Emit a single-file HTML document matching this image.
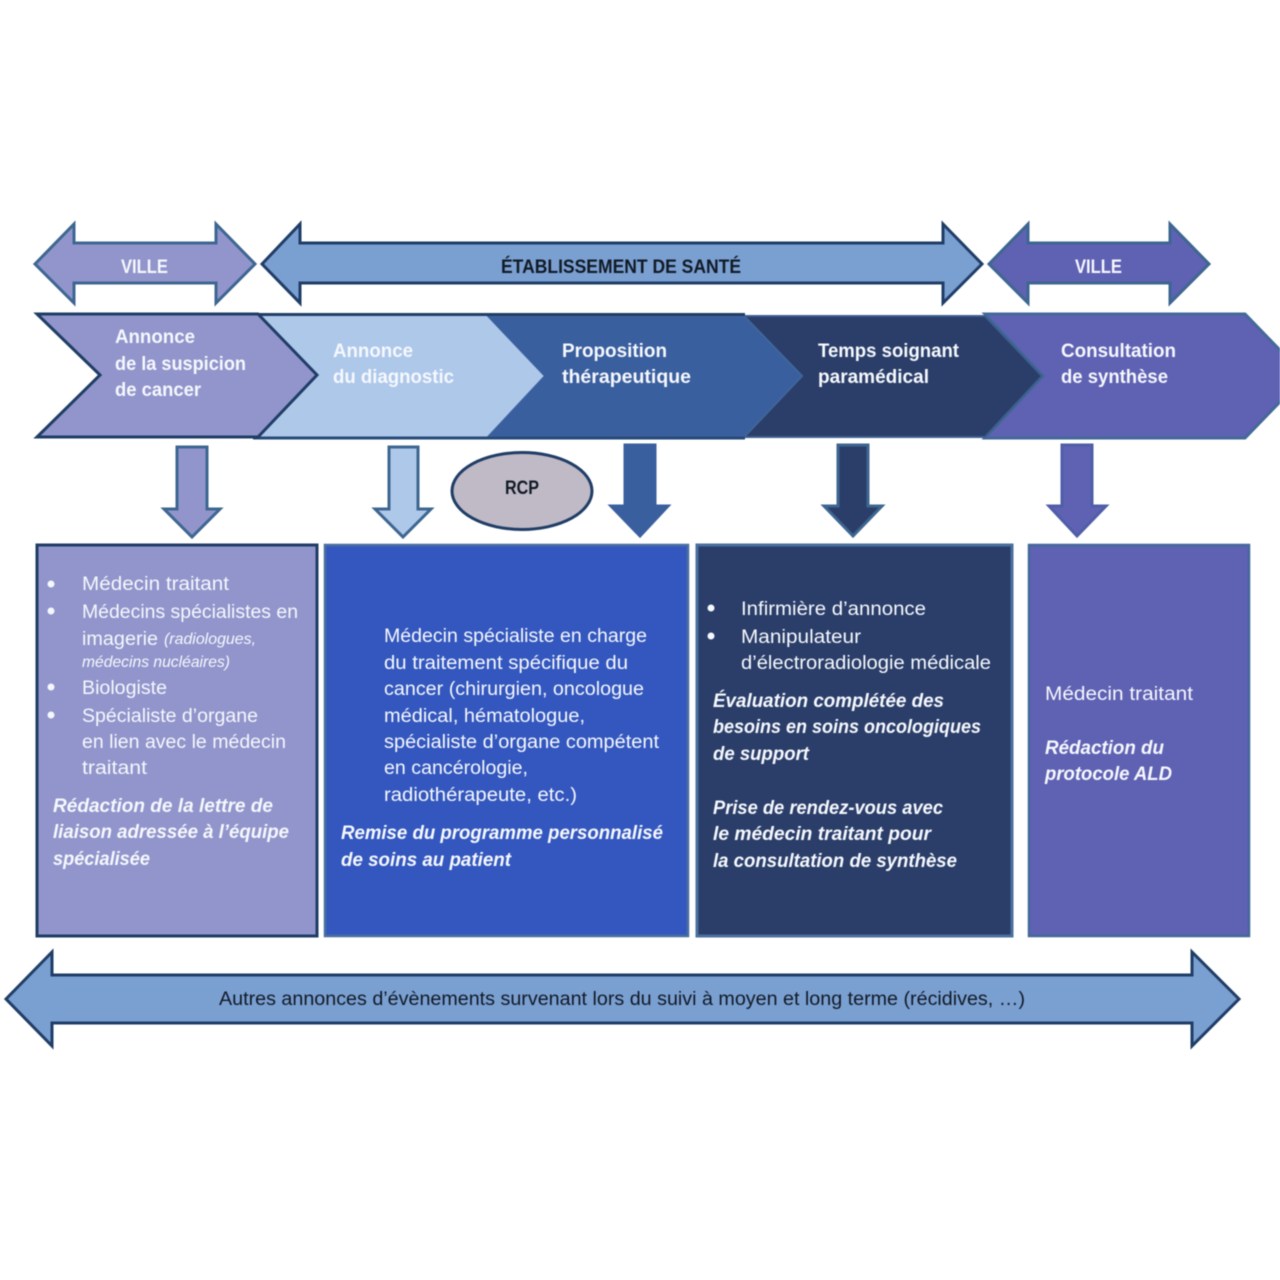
<!DOCTYPE html>
<html lang="fr">
<head>
<meta charset="utf-8">
<title>Parcours d'annonce</title>
<style>
html,body{margin:0;padding:0;background:#fff;width:1280px;height:1280px;overflow:hidden}
svg{display:block;filter:blur(0.5px)}
text{font-family:"Liberation Sans",Arial,sans-serif;font-size:19px;fill:#f6f8fd}
.b{font-weight:bold}
.d{fill:#111a26}
.bi{font-weight:bold;font-style:italic}
.i{font-style:italic;font-size:16px}
</style>
</head>
<body>
<svg width="1280" height="1280" viewBox="0 0 1280 1280" xmlns="http://www.w3.org/2000/svg">
<rect width="1280" height="1280" fill="#fff"/>

<!-- top arrows -->
<polygon points="35,264 74,224 74,243 216,243 216,224 255,264 216,303 216,283 74,283 74,303" fill="#9195cb" stroke="#3d6690" stroke-width="3"/>
<polygon points="262,264 300,224 300,243 943,243 943,224 982,264 943,303 943,283 300,283 300,303" fill="#7a9fd1" stroke="#1f3d66" stroke-width="3"/>
<polygon points="989,264 1028,224 1028,243 1170,243 1170,224 1209,264 1170,303 1170,283 1028,283 1028,303" fill="#5f62b3" stroke="#3d6690" stroke-width="3"/>

<!-- chevrons, right to left -->
<polygon points="985,314 1245,314 1305,376 1245,438 985,438 1043,376" fill="#5f62b3" stroke="#44689a" stroke-width="3"/>
<polygon points="744,316 985,316 1042,376 985,437 744,437 802,376" fill="#2a3e69" stroke="#3d5f8f" stroke-width="2"/>
<polygon points="486,316 744,316 802,376 744,437 486,437 542,376" fill="#3a5f9e" stroke="#3f659b" stroke-width="2"/>
<polygon points="258,316 486,316 543,376 486,437 258,437 318,376" fill="#aec8ea" stroke="#aec8ea" stroke-width="1"/>
<line x1="258" y1="314.500" x2="745" y2="314.500" stroke="#1f3d66" stroke-width="3"/>
<line x1="253" y1="438" x2="745" y2="438" stroke="#264a78" stroke-width="3"/>
<polygon points="37,314 258,314 317,375 258,437 37,437 100,375" fill="#9195cb" stroke="#1f3d66" stroke-width="3"/>

<!-- down arrows -->
<polygon points="177,447 207,447 207,509 220,509 192,537 164,509 177,509" fill="#9195cb" stroke="#3d6690" stroke-width="3"/>
<polygon points="389,447 418,447 418,509 431,509 403,537 375,509 389,509" fill="#aec8ea" stroke="#3d6690" stroke-width="3"/>
<polygon points="625,445 655,445 655,506 668,506 640,536 611,506 625,506" fill="#3a5f9e" stroke="#3a5f9e" stroke-width="3"/>
<polygon points="838,445 868,445 868,506 882,506 853,536 824,506 838,506" fill="#2a3e69" stroke="#3d6690" stroke-width="3"/>
<polygon points="1062,445 1092,445 1092,506 1106,506 1077,536 1049,506 1062,506" fill="#5f62b3" stroke="#4f5ea8" stroke-width="3"/>

<!-- RCP -->
<ellipse cx="522" cy="491" rx="70" ry="38.500" fill="#c0b9c6" stroke="#1f3d66" stroke-width="3"/>

<!-- boxes -->
<rect x="37" y="545" width="280" height="391" fill="#9195cb" stroke="#1f3d66" stroke-width="3"/>
<rect x="325" y="545" width="363" height="391" fill="#3357be" stroke="#4a6fa0" stroke-width="2.500"/>
<rect x="697" y="545" width="315" height="391" fill="#2a3e69" stroke="#4a6f9f" stroke-width="3"/>
<rect x="1029" y="545" width="220" height="391" fill="#5f62b3" stroke="#44689a" stroke-width="2.500"/>

<!-- bottom arrow -->
<polygon points="6,999 52,952 52,975 1192,975 1192,952 1239,999 1192,1046 1192,1023 52,1023 52,1046" fill="#7a9fd1" stroke="#1f3d66" stroke-width="3"/>

<!-- arrow labels -->
<text class="b" x="121" y="273" textLength="47" lengthAdjust="spacingAndGlyphs">VILLE</text>
<text class="b d" x="501" y="273" textLength="240" lengthAdjust="spacingAndGlyphs">ÉTABLISSEMENT DE SANTÉ</text>
<text class="b" x="1075" y="273" textLength="47" lengthAdjust="spacingAndGlyphs">VILLE</text>

<!-- chevron labels -->
<text class="b" x="115" y="343" textLength="80" lengthAdjust="spacingAndGlyphs">Annonce</text>
<text class="b" x="115" y="370" textLength="131" lengthAdjust="spacingAndGlyphs">de la suspicion</text>
<text class="b" x="115" y="396" textLength="86" lengthAdjust="spacingAndGlyphs">de cancer</text>
<text class="b" x="333" y="357" textLength="80" lengthAdjust="spacingAndGlyphs">Annonce</text>
<text class="b" x="333" y="383" textLength="121" lengthAdjust="spacingAndGlyphs">du diagnostic</text>
<text class="b" x="562" y="357" textLength="105" lengthAdjust="spacingAndGlyphs">Proposition</text>
<text class="b" x="562" y="383" textLength="129" lengthAdjust="spacingAndGlyphs">thérapeutique</text>
<text class="b" x="818" y="357" textLength="141" lengthAdjust="spacingAndGlyphs">Temps soignant</text>
<text class="b" x="818" y="383" textLength="111" lengthAdjust="spacingAndGlyphs">paramédical</text>
<text class="b" x="1061" y="357" textLength="115" lengthAdjust="spacingAndGlyphs">Consultation</text>
<text class="b" x="1061" y="383" textLength="107" lengthAdjust="spacingAndGlyphs">de synthèse</text>
<text class="b d" x="505" y="494" textLength="34" lengthAdjust="spacingAndGlyphs">RCP</text>

<!-- bullets -->
<g fill="#f6f8fd">
<circle cx="51" cy="584" r="3.500"/><circle cx="51" cy="611" r="3.500"/><circle cx="51" cy="687" r="3.500"/><circle cx="51" cy="715" r="3.500"/>
<circle cx="711" cy="608" r="3.500"/><circle cx="711" cy="636" r="3.500"/>
</g>

<!-- box 1 -->
<text x="82" y="590" textLength="147" lengthAdjust="spacingAndGlyphs">Médecin traitant</text>
<text x="82" y="618" textLength="216" lengthAdjust="spacingAndGlyphs">Médecins spécialistes en</text>
<text x="82" y="645" textLength="76" lengthAdjust="spacingAndGlyphs">imagerie</text>
<text class="i" x="164" y="644" textLength="92" lengthAdjust="spacingAndGlyphs">(radiologues,</text>
<text class="i" x="82" y="667" textLength="148" lengthAdjust="spacingAndGlyphs">médecins nucléaires)</text>
<text x="82" y="694" textLength="85" lengthAdjust="spacingAndGlyphs">Biologiste</text>
<text x="82" y="722" textLength="176" lengthAdjust="spacingAndGlyphs">Spécialiste d’organe</text>
<text x="82" y="748" textLength="204" lengthAdjust="spacingAndGlyphs">en lien avec le médecin</text>
<text x="82" y="774" textLength="65" lengthAdjust="spacingAndGlyphs">traitant</text>
<text class="bi" x="53" y="812" textLength="220" lengthAdjust="spacingAndGlyphs">Rédaction de la lettre de</text>
<text class="bi" x="53" y="838" textLength="236" lengthAdjust="spacingAndGlyphs">liaison adressée à l’équipe</text>
<text class="bi" x="53" y="865" textLength="97" lengthAdjust="spacingAndGlyphs">spécialisée</text>

<!-- box 2 -->
<text x="384" y="642" textLength="263" lengthAdjust="spacingAndGlyphs">Médecin spécialiste en charge</text>
<text x="384" y="669" textLength="244" lengthAdjust="spacingAndGlyphs">du traitement spécifique du</text>
<text x="384" y="695" textLength="260" lengthAdjust="spacingAndGlyphs">cancer (chirurgien, oncologue</text>
<text x="384" y="722" textLength="201" lengthAdjust="spacingAndGlyphs">médical, hématologue,</text>
<text x="384" y="748" textLength="275" lengthAdjust="spacingAndGlyphs">spécialiste d’organe compétent</text>
<text x="384" y="774" textLength="144" lengthAdjust="spacingAndGlyphs">en cancérologie,</text>
<text x="384" y="801" textLength="193" lengthAdjust="spacingAndGlyphs">radiothérapeute, etc.)</text>
<text class="bi" x="341" y="839" textLength="322" lengthAdjust="spacingAndGlyphs">Remise du programme personnalisé</text>
<text class="bi" x="341" y="866" textLength="170" lengthAdjust="spacingAndGlyphs">de soins au patient</text>

<!-- box 3 -->
<text x="741" y="615" textLength="185" lengthAdjust="spacingAndGlyphs">Infirmière d’annonce</text>
<text x="741" y="643" textLength="120" lengthAdjust="spacingAndGlyphs">Manipulateur</text>
<text x="741" y="669" textLength="250" lengthAdjust="spacingAndGlyphs">d’électroradiologie médicale</text>
<text class="bi" x="713" y="707" textLength="231" lengthAdjust="spacingAndGlyphs">Évaluation complétée des</text>
<text class="bi" x="713" y="733" textLength="268" lengthAdjust="spacingAndGlyphs">besoins en soins oncologiques</text>
<text class="bi" x="713" y="760" textLength="96" lengthAdjust="spacingAndGlyphs">de support</text>
<text class="bi" x="713" y="814" textLength="230" lengthAdjust="spacingAndGlyphs">Prise de rendez-vous avec</text>
<text class="bi" x="713" y="840" textLength="218" lengthAdjust="spacingAndGlyphs">le médecin traitant pour</text>
<text class="bi" x="713" y="867" textLength="244" lengthAdjust="spacingAndGlyphs">la consultation de synthèse</text>

<!-- box 4 -->
<text x="1045" y="700" textLength="148" lengthAdjust="spacingAndGlyphs">Médecin traitant</text>
<text class="bi" x="1045" y="754" textLength="119" lengthAdjust="spacingAndGlyphs">Rédaction du</text>
<text class="bi" x="1045" y="780" textLength="127" lengthAdjust="spacingAndGlyphs">protocole ALD</text>

<!-- bottom label -->
<text class="d" x="219" y="1005" textLength="806" lengthAdjust="spacingAndGlyphs">Autres annonces d’évènements survenant lors du suivi à moyen et long terme (récidives, …)</text>
</svg>
</body>
</html>
